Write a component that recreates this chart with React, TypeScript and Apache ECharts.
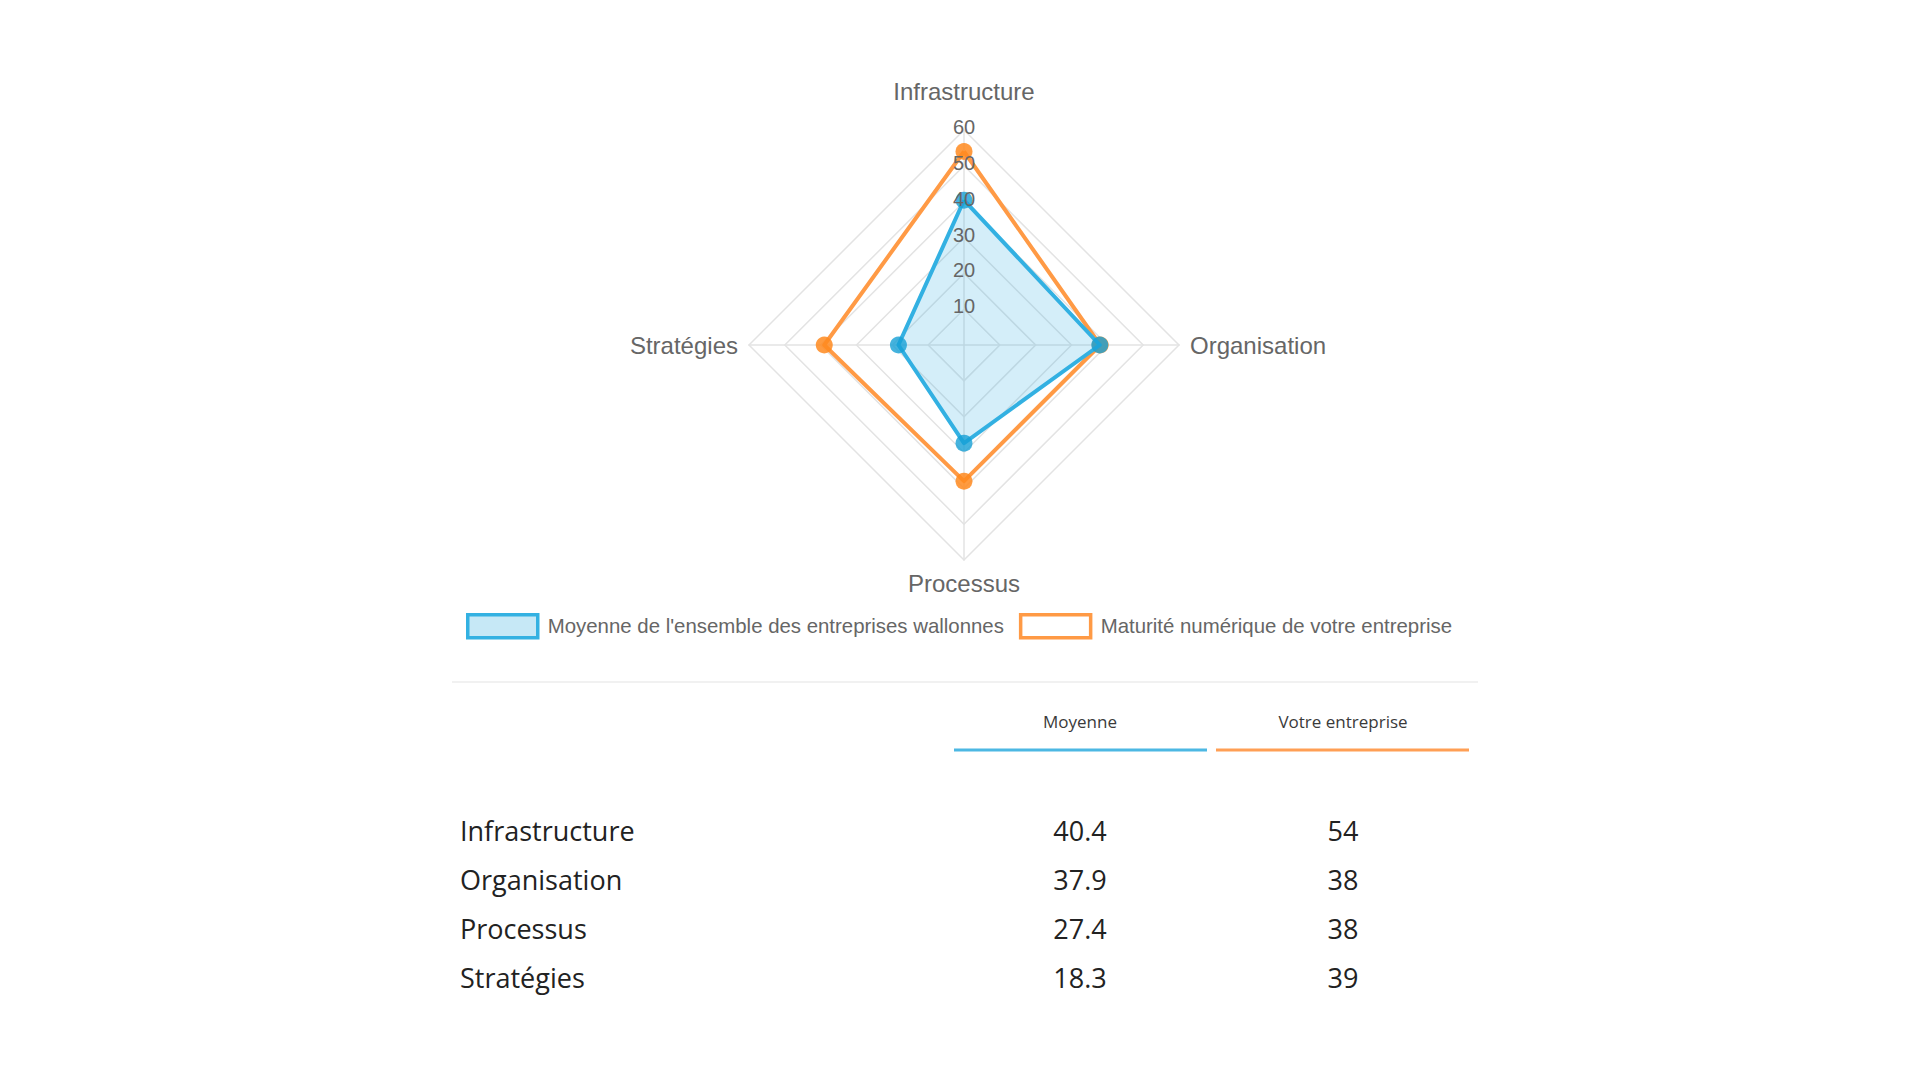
import React, { useEffect, useRef } from "react";
import * as echarts from "echarts";

const categories = ["Infrastructure", "Organisation", "Processus", "Stratégies"];
const avgValues = [40.4, 37.9, 27.4, 18.3];
const companyValues = [54, 38, 38, 39];
const seriesNames = [
  "Moyenne de l'ensemble des entreprises wallonnes",
  "Maturité numérique de votre entreprise",
];
const tableHeaders = ["Moyenne", "Votre entreprise"];
const radarMax = 60;
const tickInterval = 10;

const BLUE = "#33B1E2";
const BLUE_FILL = "rgba(51,177,226,0.3)";
const ORANGE = "#FF9A45";
const CHART_FONT = "'Liberation Sans', Arial, Helvetica, sans-serif";
const TABLE_FONT = "'Open Sans', 'Noto Sans', sans-serif";

// ECharts radar goes counter-clockwise; reference is clockwise from the top
const order = [0, 3, 2, 1];

export default function App() {
  const ref = useRef<HTMLDivElement>(null);

  useEffect(() => {
    if (!ref.current) return;
    const chart = echarts.init(ref.current, undefined, { renderer: "svg" });

    const cx = 964;
    const cy = 345;
    const r = 215;

    const colX = [1080, 1343];
    const rowY0 = 830;
    const rowStep = 49;

    const graphics: any[] = [
      {
        type: "line",
        shape: { x1: 452, y1: 682, x2: 1478, y2: 682 },
        style: { stroke: "#ECECEC", lineWidth: 1.5 },
      },
      {
        type: "line",
        shape: { x1: 954, y1: 750, x2: 1207, y2: 750 },
        style: { stroke: "#4DB8E3", lineWidth: 3 },
      },
      {
        type: "line",
        shape: { x1: 1216, y1: 750, x2: 1469, y2: 750 },
        style: { stroke: "#FF9F55", lineWidth: 3 },
      },
    ];
    tableHeaders.forEach((h, i) => {
      graphics.push({
        type: "text",
        x: colX[i],
        y: 721,
        style: {
          text: h,
          fontFamily: TABLE_FONT,
          fontSize: 17,
          fill: "#3a3a3a",
          textAlign: "center",
          textVerticalAlign: "middle",
        },
      });
    });
    categories.forEach((c, i) => {
      const y = rowY0 + i * rowStep;
      graphics.push({
        type: "text",
        x: 460,
        y,
        style: {
          text: c,
          fontFamily: TABLE_FONT,
          fontSize: 27,
          fill: "#222",
          textAlign: "left",
          textVerticalAlign: "middle",
        },
      });
      [avgValues[i], companyValues[i]].forEach((v, j) => {
        graphics.push({
          type: "text",
          x: colX[j],
          y,
          style: {
            text: String(v),
            fontFamily: TABLE_FONT,
            fontSize: 27,
            fill: "#222",
            textAlign: "center",
            textVerticalAlign: "middle",
          },
        });
      });
    });

    const option: any = {
      animation: false,
      backgroundColor: "#ffffff",
      textStyle: { fontFamily: CHART_FONT },
      legend: {
        top: 608,
        left: 461,
        itemWidth: 70,
        itemHeight: 23,
        itemGap: 15,
        icon: "rect",
        textStyle: {
          fontSize: 20.4,
          color: "#666",
          fontFamily: CHART_FONT,
          padding: [0, 0, 0, 5],
        },
        data: [
          {
            name: seriesNames[0],
            itemStyle: { color: "#C6E8F6", borderColor: BLUE, borderWidth: 3.5 },
          },
          {
            name: seriesNames[1],
            itemStyle: { color: "#ffffff", borderColor: ORANGE, borderWidth: 3.5 },
          },
        ],
      },
      radar: {
        center: [cx, cy],
        radius: r,
        startAngle: 90,
        shape: "polygon",
        splitNumber: radarMax / tickInterval,
        indicator: order.map((i) => ({ name: categories[i], min: 0, max: radarMax })),
        axisName: {
          color: "#666",
          fontSize: 24,
          fontFamily: CHART_FONT,
          formatter: (name: string) =>
            name === categories[0] ? `{top|${name}}` : name,
          rich: {
            top: {
              color: "#666",
              fontSize: 24,
              fontFamily: CHART_FONT,
              padding: [0, 0, 16, 0],
            },
          },
        },
        nameGap: 11,
        splitLine: { lineStyle: { color: "#E3E3E3", width: 1.5 } },
        splitArea: { show: false },
        axisLine: { lineStyle: { color: "#E3E3E3", width: 1.5 } },
      },
      grid: { left: cx, top: cy - r - 3, width: 1, height: r },
      xAxis: { type: "value", show: false },
      yAxis: {
        type: "value",
        min: 0,
        max: radarMax,
        interval: tickInterval,
        z: 10,
        axisLine: { show: false },
        axisTick: { show: false },
        splitLine: { show: false },
        axisLabel: {
          showMinLabel: false,
          align: "center",
          verticalAlign: "middle",
          margin: 0,
          fontSize: 20,
          color: "#666",
          fontFamily: CHART_FONT,
        },
      },
      series: [
        {
          type: "radar",
          z: 2,
          symbol: "circle",
          symbolSize: 17,
          data: [
            {
              name: seriesNames[1],
              value: order.map((i) => companyValues[i]),
              lineStyle: { color: ORANGE, width: 4 },
              itemStyle: { color: "rgba(255,137,30,0.85)" },
            },
          ],
        },
        {
          type: "radar",
          z: 3,
          symbol: "circle",
          symbolSize: 17,
          data: [
            {
              name: seriesNames[0],
              value: order.map((i) => avgValues[i]),
              lineStyle: { color: BLUE, width: 4 },
              itemStyle: { color: "rgba(22,160,214,0.8)" },
              areaStyle: { color: BLUE_FILL },
            },
          ],
        },
      ],
      graphic: graphics,
    };

    chart.setOption(option);
    return () => chart.dispose();
  }, []);

  return (
    <div
      ref={ref}
      style={{ position: "fixed", left: 0, top: 0, width: 1920, height: 1080, background: "#fff" }}
    />
  );
}
